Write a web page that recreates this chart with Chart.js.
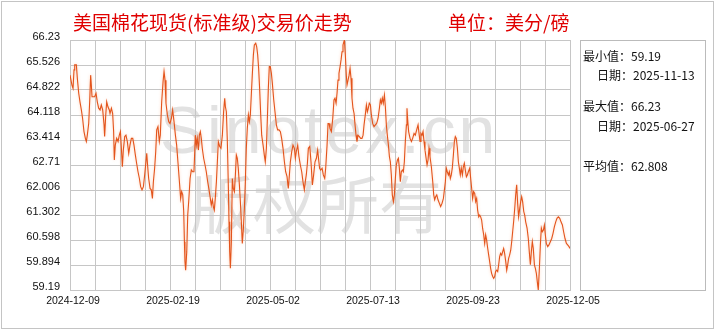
<!DOCTYPE html>
<html><head><meta charset="utf-8">
<script src="https://cdn.jsdelivr.net/npm/chart.js@4/dist/chart.umd.min.js"></script>
<style>
html,body{margin:0;padding:0;background:#fff;}
#wrap{position:relative;width:720px;height:330px;overflow:hidden;background:#fff;}
#frame{position:absolute;left:1px;top:1px;width:713px;height:328px;border:1px solid #c4c4c4;box-sizing:border-box;}
.wm{position:absolute;color:#e2e2e2;white-space:nowrap;}
#wm1{left:160px;top:97px;font:66px/66px "Liberation Sans",Arial,sans-serif;letter-spacing:3px;}
#wm2{left:190px;top:169px;font:63px/63px "Noto Sans CJK SC",sans-serif;}
canvas{position:absolute;left:0;top:0;}
.t{position:absolute;white-space:nowrap;}
#title{left:73px;top:11px;font:19px/22px "Noto Sans CJK SC",sans-serif;color:#e00000;}
#unit{left:448px;top:11px;font:19px/22px "Noto Sans CJK SC",sans-serif;color:#e00000;}
#panel{position:absolute;left:580px;top:40px;width:126px;height:251px;border:1px solid #bbb;box-sizing:border-box;}
.p{position:absolute;font:12px/14px "Noto Sans CJK SC",sans-serif;color:#111;white-space:nowrap;}
</style>
</head><body>
<div id="wrap">
  <div id="frame"></div>
  <div class="wm" id="wm1">Sinotex.cn</div>
  <div class="wm" id="wm2">版权所有</div>
  <canvas id="c" width="720" height="330"></canvas>
  <div class="t" id="title"></div>
  <div class="t" id="unit"></div>
  <div id="panel"></div>
  <div class="p" id="pMin" style="left:583px;top:49px"></div>
  <div class="p" id="pMinD" style="left:597px;top:68px"></div>
  <div class="p" id="pMax" style="left:583px;top:99px"></div>
  <div class="p" id="pMaxD" style="left:597px;top:119px"></div>
  <div class="p" id="pAvg" style="left:583px;top:159px"></div>
</div>
<script>
const titleText = '美国棉花现货(标准级)交易价走势';
const unitText = '单位：美分/磅';
const startDate = '2024-12-09';
const xTickLabels = ['2024-12-09','2025-02-19','2025-05-02','2025-07-13','2025-09-23','2025-12-05'];
const yTickLabels = ['66.23','65.526','64.822','64.118','63.414','62.71','62.006','61.302','60.598','59.894','59.19'];
const minValue = '59.19', minDate = '2025-11-13';
const maxValue = '66.23', maxDate = '2025-06-27';
const avgValue = '62.808';

// days after startDate
const dayOffsets = [
0,1.4,2.2,2.9,3.4,4.6,5.3,6.3,7.2,8.2,9.1,10.1,11.1,11.8,12.5,13.5,14.2,14.9,15.4,15.9,16.9,17.8,18.8,19.7,20.7,21.7,22.6,23.6,24.6,25.0,25.8,26.5,27.4,28.4,28.9,29.9,30.8,31.5,32.0,32.7,33.7,34.7,35.6,36.4,37.1,37.8,38.5,39.5,40.4,41.4,42.4,43.3,44.3,45.3,46.2,47.2,48.1,49.1,50.1,51.0,52.0,53.0,53.9,54.6,55.4,56.1,56.8,57.8,58.7,59.5,60.2,61.1,61.9,62.6,63.5,64.5,65.2,66.2,67.2,67.9,68.6,69.3,70.3,71.3,72.2,73.2,74.1,75.1,76.1,77.0,78.0,79.0,79.9,80.6,81.4,82.1,82.6,83.0,83.5,84.3,85.0,85.7,86.7,87.6,88.6,89.5,
90.5,91.2,91.9,92.7,93.4,94.1,94.8,95.5,96.5,97.5,98.4,99.4,100.4,101.3,102.0,102.8,103.5,104.2,104.9,105.7,106.4,107.1,108.1,109.0,110.0,110.9,111.7,112.2,112.9,113.6,114.3,114.8,115.3,115.8,116.5,117.2,117.9,118.7,119.4,120.1,120.8,121.5,122.3,123.0,123.7,124.4,125.2,125.9,126.6,127.3,128.0,128.8,129.5,130.2,130.9,131.6,132.4,133.1,134.1,134.8,135.5,136.2,136.9,137.7,138.4,139.4,140.3,141.0,141.8,142.5,143.2,143.9,144.6,145.4,146.1,147.1,148.0,149.0,149.9,150.9,151.9,152.8,153.8,154.8,155.7,156.7,157.6,158.4,159.1,160.1,161.0,162.0,162.7,163.4,164.4,165.3,166.3,167.3,168.2,169.2,169.9,170.6,171.4,172.1,173.1,174.0,175.0,175.9,176.9,177.9,178.8,
180.2,181.0,182.0,182.9,183.9,184.6,185.6,186.3,187.0,187.7,188.7,189.7,190.6,191.3,192.1,192.8,193.5,194.2,195.0,195.7,196.4,197.1,198.1,198.8,199.5,200.0,200.7,201.5,202.2,202.9,203.6,204.3,205.1,205.8,206.5,207.2,207.9,208.9,209.9,210.8,211.6,212.3,213.2,214.0,214.7,215.4,216.1,216.9,217.6,218.5,219.5,220.5,221.4,222.4,223.4,224.1,224.8,225.5,226.2,227.0,227.7,228.4,229.1,229.9,230.6,231.3,232.0,232.7,233.5,234.2,234.9,235.6,236.4,237.1,237.8,238.5,239.2,240.0,240.7,241.4,242.1,242.9,243.3,243.8,244.5,245.5,246.5,247.4,248.4,249.3,250.3,251.3,252.0,252.7,253.4,254.2,254.9,255.6,256.3,257.1,257.8,258.5,259.2,259.9,260.9,261.9,262.6,263.3,264.0,264.8,265.7,266.7,267.6,268.6,269.6,
271.0,271.7,272.4,273.2,273.9,274.6,275.3,276.0,276.8,277.5,278.2,278.9,279.7,280.4,281.1,281.8,282.5,283.3,284.0,284.7,285.4,286.2,286.9,287.6,288.6,289.3,290.0,290.7,291.4,292.2,292.9,293.6,294.3,295.1,295.8,296.5,297.2,297.9,298.7,299.4,300.1,300.8,301.6,302.3,303.0,303.7,304.4,305.2,305.9,306.6,307.3,308.1,308.8,309.5,310.2,310.9,311.7,312.4,313.1,313.8,314.6,315.3,316.0,316.7,317.4,318.2,318.9,319.6,320.3,321.1,321.8,322.5,323.2,323.9,324.7,325.4,326.1,326.8,327.6,328.3,329.0,330.0,330.9,331.6,332.4,333.1,333.8,334.5,335.3,336.0,336.7,337.4,338.1,338.9,339.6,340.3,341.0,341.8,342.5,343.2,343.9,344.9,345.8,346.8,347.8,348.7,349.7,350.7,351.6,352.6,353.6,354.5,355.5,356.4,357.4,358.4,359.3,360.3,361.0
];
const prices = [
65.24,64.96,64.87,65.39,65.53,65.53,65.15,64.73,64.49,64.26,64.02,63.65,63.46,63.37,63.55,63.88,64.49,65.24,64.96,64.63,64.63,64.63,64.73,64.49,64.31,64.26,64.40,64.26,63.84,63.51,64.12,64.49,64.35,64.26,64.16,64.31,64.16,63.65,62.85,63.27,63.46,63.37,63.55,63.65,63.18,62.66,63.13,63.51,63.55,63.37,63.04,63.27,63.46,63.46,63.27,62.99,62.76,62.52,62.33,62.10,62.01,62.10,62.43,62.71,63.04,62.66,62.33,62.05,62.01,61.77,62.24,62.62,63.09,63.70,63.79,63.37,63.55,64.49,65.06,65.34,65.10,64.45,64.12,63.93,63.88,64.02,64.26,63.93,63.55,63.27,62.76,62.24,61.77,61.96,61.87,61.40,60.55,59.99,59.75,60.27,61.30,61.68,62.33,62.57,62.52,62.52,
63.55,63.27,63.46,63.13,63.55,63.65,63.46,63.18,62.90,62.71,62.52,62.24,62.01,61.77,61.58,61.73,61.54,61.44,61.77,62.24,62.80,63.37,63.23,63.18,63.55,64.21,64.59,64.35,64.21,63.37,62.15,61.11,60.27,59.80,60.55,62.33,62.05,61.96,62.43,62.99,62.90,62.62,62.15,61.68,61.11,60.50,60.93,61.49,62.24,63.18,63.74,64.12,63.93,64.12,64.68,65.24,65.81,66.09,66.14,66.04,65.81,65.43,64.87,64.12,63.55,63.27,62.99,62.80,63.18,64.02,64.87,65.48,65.48,65.29,65.01,64.54,64.21,63.84,63.70,63.70,63.65,63.46,63.18,62.80,62.52,62.38,62.05,62.43,62.80,63.09,63.27,63.18,62.90,63.09,63.27,62.95,62.71,62.52,62.24,62.01,62.24,62.43,62.76,63.18,63.23,62.80,62.15,62.43,62.80,62.90,63.13,
62.62,62.57,62.62,62.43,62.33,62.62,63.27,63.88,63.88,63.74,63.65,64.02,64.54,64.59,64.45,64.73,65.10,65.29,65.48,65.67,65.90,66.09,66.23,65.81,65.24,64.96,64.96,65.24,65.43,65.15,64.59,64.31,64.16,63.84,63.55,63.37,63.55,63.51,63.46,63.46,63.55,63.84,64.12,64.40,64.21,64.31,64.45,64.40,64.12,63.88,63.79,63.84,63.88,64.02,64.31,64.54,64.45,64.59,64.45,64.68,64.35,63.84,63.55,63.27,62.95,62.80,62.43,61.87,61.68,61.87,62.33,62.71,62.85,62.90,62.62,62.24,62.52,62.57,62.52,62.80,63.37,63.84,64.31,63.98,63.65,63.46,63.37,63.46,63.60,63.55,63.70,63.84,63.60,63.37,63.60,63.55,63.65,63.37,63.13,62.90,62.71,62.85,63.18,62.95,62.66,62.24,61.87,61.73,61.82,61.87,61.73,61.63,61.54,61.63,61.77,
62.24,62.62,62.52,62.43,62.52,62.33,62.43,62.62,62.99,63.37,63.51,63.46,63.18,62.80,62.62,62.43,62.62,62.43,62.66,62.76,62.57,62.38,62.43,62.52,62.62,62.33,62.05,61.77,61.96,61.91,61.68,61.77,61.44,61.25,61.30,61.25,61.16,60.93,60.74,60.50,60.74,60.60,60.36,60.17,59.99,59.80,59.66,59.57,59.52,59.57,59.71,59.75,59.71,59.90,60.13,60.22,60.17,60.27,60.36,60.22,59.99,59.75,59.90,60.08,60.17,60.31,60.55,60.83,61.11,61.49,61.87,62.15,61.63,61.25,61.49,61.68,61.82,61.68,61.40,61.30,61.11,60.93,60.64,60.27,59.90,60.27,60.55,60.36,59.90,59.80,59.66,59.42,59.19,59.80,60.46,60.93,60.83,60.88,61.02,60.74,60.50,60.41,60.46,60.55,60.64,60.78,60.97,61.11,61.21,61.25,61.21,61.11,61.02,60.83,60.64,60.50,60.46,60.41,60.36
];

document.getElementById('title').textContent = titleText;
document.getElementById('unit').textContent = unitText;
document.getElementById('pMin').textContent = '最小值：' + minValue;
document.getElementById('pMinD').textContent = '日期：' + minDate;
document.getElementById('pMax').textContent = '最大值：' + maxValue;
document.getElementById('pMaxD').textContent = '日期：' + maxDate;
document.getElementById('pAvg').textContent = '平均值：' + avgValue;

const DAY = 86400000;
const t0 = Date.parse(startDate + 'T00:00:00Z');
const xMax = (Date.parse(xTickLabels[xTickLabels.length-1] + 'T00:00:00Z') - t0) / DAY;
const yVals = yTickLabels.map(Number);
const yMin = Math.min(...yVals), yMax = Math.max(...yVals);
const points = dayOffsets.map((d, i) => ({x: d, y: prices[i]}));
const N_X = 20, LABEL_EVERY = 4;

const glow = {
  id: 'glow',
  beforeDatasetsDraw(chart) { const c = chart.ctx; c.save(); c.shadowColor = 'rgba(255,160,110,0.55)'; c.shadowBlur = 3; },
  afterDatasetsDraw(chart) { chart.ctx.restore(); }
};

new Chart(document.getElementById('c'), {
  type: 'line',
  data: { datasets: [{ data: points, borderColor: '#e3541c', borderWidth: 1.1, pointRadius: 0, tension: 0, fill: false }] },
  options: {
    responsive: false, animation: false, devicePixelRatio: 1,
    layout: { padding: { left: 0, top: 40, right: 150, bottom: 0 } },
    plugins: { legend: { display: false }, tooltip: { enabled: false } },
    scales: {
      x: {
        type: 'linear', min: 0, max: xMax,
        afterBuildTicks(s) { s.ticks = Array.from({length: N_X + 1}, (_, i) => ({ value: xMax * i / N_X })); },
        afterFit(s) { s.height = 40; },
        grid: { color: '#c6c6c6', lineWidth: 1, drawTicks: false },
        border: { color: '#c6c6c6' },
        ticks: {
          autoSkip: false, maxRotation: 0, padding: 5, labelOffset: 3,
          color: '#111', font: { family: 'Liberation Sans', size: 10.5 },
          callback: (v, i) => (i % LABEL_EVERY === 0 ? xTickLabels[i / LABEL_EVERY] : '')
        }
      },
      y: {
        min: yMin, max: yMax,
        afterBuildTicks(s) { s.ticks = yVals.slice().sort((a, b) => a - b).map(v => ({ value: v })); },
        afterFit(s) { s.width = 70; },
        grid: { color: '#c6c6c6', lineWidth: 1, drawTicks: false },
        border: { color: '#c6c6c6' },
        ticks: {
          padding: 10, labelOffset: -3,
          color: '#111', font: { family: 'Liberation Sans', size: 11 },
          callback: (v) => yTickLabels[yVals.indexOf(v)]
        }
      }
    }
  },
  plugins: [glow]
});
</script>
</body></html>
